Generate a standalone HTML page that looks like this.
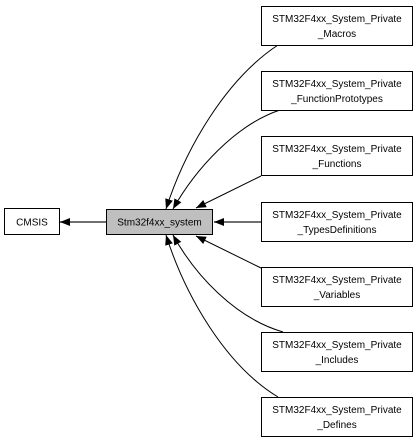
<!DOCTYPE html>
<html><head><style>
body{margin:0;background:#fff;}
svg{display:block;}
text{font-family:"Liberation Sans",sans-serif;font-size:10px;fill:#000;}
</style></head><body>
<svg width="419" height="444" viewBox="0 0 419 444" xmlns="http://www.w3.org/2000/svg">
<defs>
<marker id="a" markerWidth="10" markerHeight="8" refX="10" refY="4" orient="auto" markerUnits="userSpaceOnUse">
<path d="M0,0 L10,4 L0,8 Z" fill="#000"/>
</marker>
</defs>
<g fill="none" stroke="#000" stroke-width="1">
<path d="M278,45 C225,80 185,150 166,209" marker-end="url(#a)"/>
<path d="M280,110 C235,125 195,170 173,209" marker-end="url(#a)"/>
<path d="M261,176 L196,208" marker-end="url(#a)"/>
<path d="M261,222 L214,222" stroke="#404040" stroke-width="1.5" marker-end="url(#a)"/>
<path d="M261,268 L196,236" marker-end="url(#a)"/>
<path d="M283,332 C235,318 195,275 173,235" marker-end="url(#a)"/>
<path d="M278,397 C225,365 185,295 166,235" marker-end="url(#a)"/>
<path d="M106,222 L60,222" stroke="#404040" stroke-width="1.5" marker-end="url(#a)"/>
</g>
<g stroke="#000" stroke-width="1">
<rect x="4.5" y="208.5" width="55" height="26" fill="#fff"/>
<rect x="106.5" y="209.5" width="106" height="25" fill="#bfbfbf"/>
<rect x="261.5" y="6.5" width="151" height="39" fill="#fff"/>
<rect x="261.5" y="71.5" width="151" height="39" fill="#fff"/>
<rect x="261.5" y="136.5" width="151" height="39" fill="#fff"/>
<rect x="261.5" y="202.5" width="151" height="39" fill="#fff"/>
<rect x="261.5" y="267.5" width="151" height="39" fill="#fff"/>
<rect x="261.5" y="332.5" width="151" height="39" fill="#fff"/>
<rect x="261.5" y="397.5" width="151" height="39" fill="#fff"/>
</g>
<g text-anchor="middle">
<text x="32" y="225.5">CMSIS</text>
<text x="159.5" y="225.5">Stm32f4xx_system</text>
<text x="337" y="22">STM32F4xx_System_Private</text><text x="337" y="37">_Macros</text>
<text x="337" y="87">STM32F4xx_System_Private</text><text x="337" y="102">_FunctionPrototypes</text>
<text x="337" y="152">STM32F4xx_System_Private</text><text x="337" y="167">_Functions</text>
<text x="337" y="218">STM32F4xx_System_Private</text><text x="337" y="233">_TypesDefinitions</text>
<text x="337" y="283">STM32F4xx_System_Private</text><text x="337" y="298">_Variables</text>
<text x="337" y="348">STM32F4xx_System_Private</text><text x="337" y="363">_Includes</text>
<text x="337" y="413">STM32F4xx_System_Private</text><text x="337" y="428">_Defines</text>
</g>
</svg>
</body></html>
